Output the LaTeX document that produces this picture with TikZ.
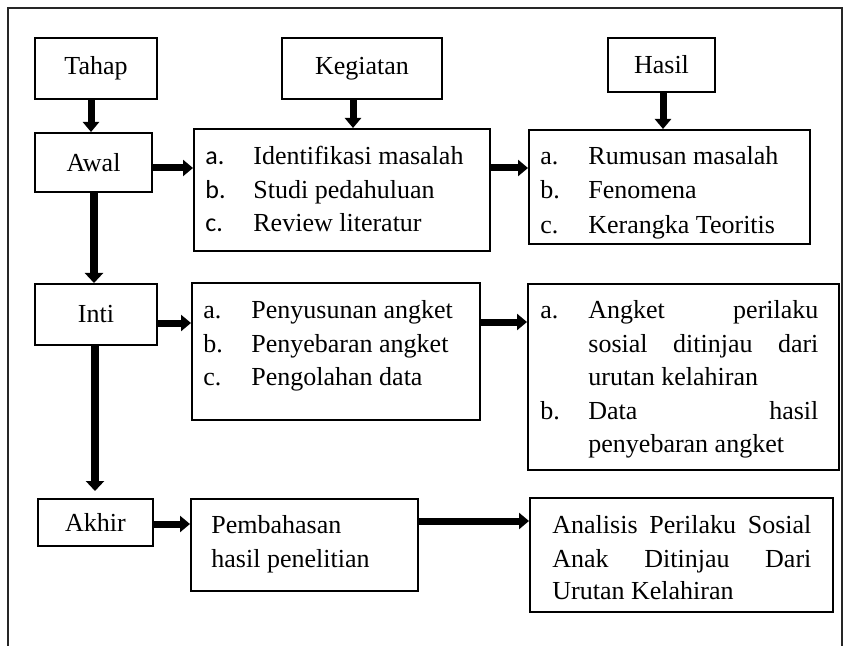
\documentclass[tikz,border=0pt]{standalone}
\usepackage{fontspec}
\setmainfont{Liberation Serif}
\newfontfamily\markfont{Carlito}
\usetikzlibrary{arrows.meta,fit}
\begin{document}
\begin{tikzpicture}[x=0.5pt,y=-0.5pt,
  every node/.style={font=\fontsize{13pt}{16.5pt}\selectfont, inner sep=0pt},
  box/.style={draw, line width=1pt, inner sep=0pt},
  txt/.style={anchor=base west},
  arr/.style={line width=3.5pt, -{Triangle[width=8pt,length=5pt]}},
  arrb/.style={line width=4pt, -{Triangle[width=9pt,length=5pt]}}]
\useasboundingbox (0,0) rectangle (844,646);
% outer frame (open at the bottom)
\draw[line width=1pt, black!85] (8,646) -- (8,8) -- (842,8) -- (842,646);

% header boxes
\node[box, fit={(35,38) (157,99)}, label=center:Tahap] (tahap) {};
\node[box, fit={(282,38) (442,99)}, label=center:Kegiatan] (keg) {};
\node[box, fit={(608,38) (715,92)}, label=center:Hasil] (hasil) {};

% stage boxes
\node[box, fit={(35,133) (152,192)}, label=center:Awal] (awal) {};
\node[box, fit={(35,284) (157,345)}, label=center:Inti] (inti) {};
\node[box, fit={(38,499) (153,546)}, label=center:Akhir] (akhir) {};

% activity boxes
\node[box, fit={(194,129) (490,251)}] (kl1) {};
\node[box, fit={(192,283) (480,420)}] (kl2) {};
\node[box, fit={(191,499) (418,591)}] (kl3) {};

% result boxes
\node[box, fit={(529,130) (810,244)}] (hl1) {};
\node[box, fit={(528,284) (839,470)}] (hl2) {};
\node[box, fit={(530,498) (833,612)}] (hl3) {};

% texts of kl1
\node[txt] (k1am) at (205,165) {\markfont a.};
\node[txt] (k1a)  at (253,165) {Identifikasi masalah};
\node[txt] (k1bm) at (205,199) {\markfont b.};
\node[txt] (k1b)  at (253,199) {Studi pedahuluan};
\node[txt] (k1cm) at (205,232) {\markfont c.};
\node[txt] (k1c)  at (253,232) {Review literatur};

% texts of hl1
\node[txt] (h1am) at (540,165) {a.};
\node[txt] (h1a)  at (588,165) {Rumusan masalah};
\node[txt] (h1bm) at (540,199) {b.};
\node[txt] (h1b)  at (588,199) {Fenomena};
\node[txt] (h1cm) at (540,234) {c.};
\node[txt] (h1c)  at (588,234) {Kerangka Teoritis};

% texts of kl2
\node[txt] (k2am) at (203,318) {a.};
\node[txt] (k2a)  at (251,318) {Penyusunan angket};
\node[txt] (k2bm) at (203,352) {b.};
\node[txt] (k2b)  at (251,352) {Penyebaran angket};
\node[txt] (k2cm) at (203,385) {c.};
\node[txt] (k2c)  at (251,385) {Pengolahan data};

% texts of hl2
\node[txt] (h2am) at (540,318) {a.};
\node[txt] (h2a1) at (588,318) {\hbox to 115pt{Angket\hfill perilaku}};
\node[txt] (h2a2) at (588,352) {\hbox to 115pt{sosial\hfill ditinjau\hfill dari}};
\node[txt] (h2a3) at (588,385) {urutan kelahiran};
\node[txt] (h2bm) at (540,419) {b.};
\node[txt] (h2b1) at (588,419) {\hbox to 115pt{Data\hfill hasil}};
\node[txt] (h2b2) at (588,452) {penyebaran angket};

% texts of kl3
\node[txt] (k3a) at (211,533) {Pembahasan};
\node[txt] (k3b) at (211,567) {hasil penelitian};

% texts of hl3
\node[txt] (h3a) at (552,533) {\hbox to 129.5pt{Analisis\hfill Perilaku\hfill Sosial}};
\node[txt] (h3b) at (552,567) {\hbox to 129.5pt{Anak\hfill Ditinjau\hfill Dari}};
\node[txt] (h3c) at (552,599) {Urutan Kelahiran};

% arrows
\draw[arr] ([xshift=-2.5pt]tahap.south) -- ([xshift=-2.5pt]tahap.south |- awal.north);
\draw[arr] ([xshift=-4.5pt]keg.south) -- ([xshift=-4.5pt]keg.south |- kl1.north);
\draw[arr] ([xshift=0.75pt]hasil.south) -- ([xshift=0.75pt]hasil.south |- hl1.north);
\draw[arr] ([yshift=-2.75pt]awal.east) -- ([yshift=-2.75pt]awal.east -| kl1.west);
\draw[arr] ([yshift=11pt]kl1.east) -- ([yshift=11pt]kl1.east -| hl1.west);
\draw[arrb] ([xshift=0.25pt]awal.south) -- ([xshift=0.25pt]awal.south |- inti.north);
\draw[arr] ([yshift=-4.25pt]inti.east) -- ([yshift=-4.25pt]inti.east -| kl2.west);
\draw[arr] ([yshift=14.75pt]kl2.east) -- ([yshift=14.75pt]kl2.east -| hl2.west);
\draw[arrb] ([xshift=-0.5pt]inti.south) -- ([xshift=-0.5pt,yshift=3.5pt]inti.south |- akhir.north);
\draw[arr] ([yshift=-0.75pt]akhir.east) -- ([yshift=-0.75pt]akhir.east -| kl3.west);
\draw[arr] ([yshift=12pt]kl3.east) -- ([yshift=12pt]kl3.east -| hl3.west);
\end{tikzpicture}
\end{document}
